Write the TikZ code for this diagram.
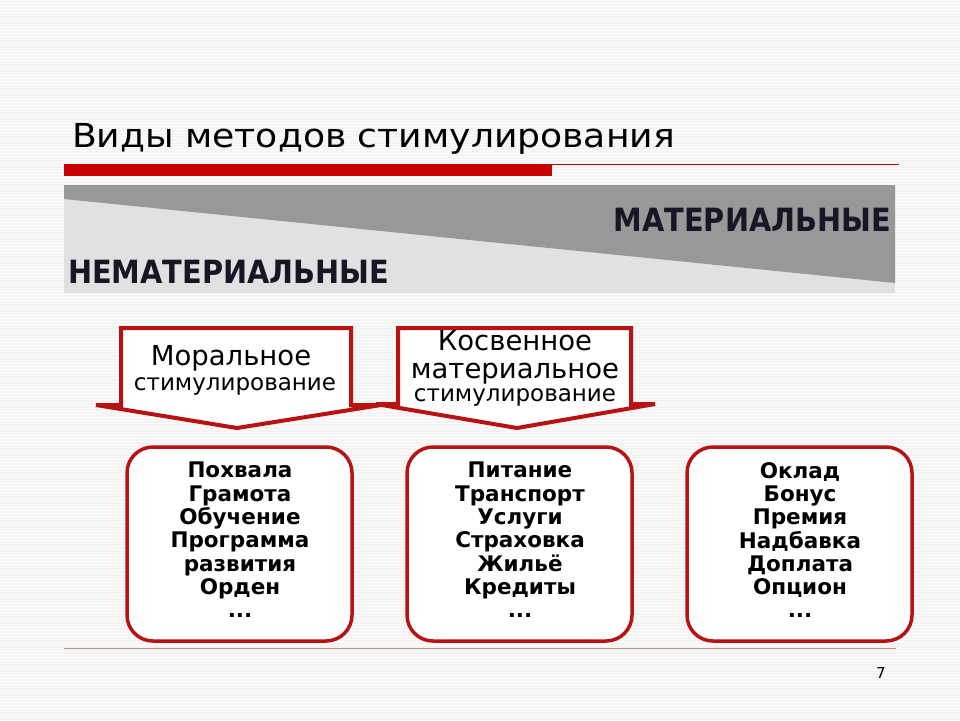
\documentclass[tikz,border=0pt]{standalone}
\usepackage{fontspec}
\setmainfont{DejaVu Sans}
\newfontfamily\cond{DejaVu Sans Condensed}
\definecolor{bgc}{RGB}{243,243,243}
\definecolor{redbar}{RGB}{200,0,0}
\definecolor{boxred}{RGB}{185,18,18}
\definecolor{darkg}{RGB}{152,152,152}
\definecolor{lightg}{RGB}{225,225,225}
\definecolor{rule}{RGB}{185,145,135}
\definecolor{ink}{RGB}{22,22,36}
\tikzset{
  callout/.style={draw=boxred, fill=white, line width=4pt, line join=miter},
  listbox/.style={draw=boxred, fill=white, line width=3.5pt, rounded corners=26pt},
  listtext/.style={align=center, inner sep=0pt, anchor=north, font=\fontsize{21.5}{23.3}\selectfont\bfseries},
  bigc/.style={inner sep=0pt, anchor=base, font=\fontsize{27.5}{30}\selectfont},
  smallc/.style={inner sep=0pt, anchor=base, font=\fontsize{23}{25}\selectfont},
  bandtext/.style={inner sep=0pt, font=\cond\fontsize{32}{36}\selectfont\bfseries, text=ink}
}
\begin{document}
\begin{tikzpicture}[x=1pt,y=-1pt]
\useasboundingbox (0,0) rectangle (960,720);
\fill[bgc] (0,0) rectangle (960,720);
\foreach \yy in {0,3,...,720} \draw[white, line width=0.8pt, opacity=0.7] (0,\yy) -- (960,\yy);
% title
\node[inner sep=0pt, anchor=base west, font=\fontsize{33}{36}\selectfont] (title) at (72,147) {\scalebox{1.095}[1]{Виды методов стимулирования}};
% red bars
\fill[redbar] (64,164) rectangle (552,176);
\draw[redbar, line width=1.2pt] (552,164.6) -- (899,164.6);
% band
\fill[lightg] (64,185) rectangle (895,293);
\fill[darkg] (64,185) -- (895,185) -- (895,283) -- (64,199) -- cycle;
\node[bandtext, anchor=base east] (mat) at (891,231) {МАТЕРИАЛЬНЫЕ};
\node[bandtext, anchor=base west] (nemat) at (68,283) {НЕМАТЕРИАЛЬНЫЕ};
% callouts
\draw[callout] (121,328) -- (351,328) -- (351,405) -- (381,405) -- (237,428) -- (96,405) -- (121,405) -- cycle;
\draw[callout] (398,328) -- (631,328) -- (631,404) -- (655,404) -- (517,428) -- (376,404) -- (398,404) -- cycle;
\node[bigc] (c1a) at (231,365) {Моральное};
\node[smallc] (c1b) at (235,390) {стимулирование};
\node[bigc] (c2a) at (515,350) {Косвенное};
\node[bigc] (c2b) at (515,378) {материальное};
\node[smallc] (c2c) at (515,401) {стимулирование};
% list boxes
\draw[listbox] (127,447) rectangle (352,641);
\draw[listbox] (407,447) rectangle (632,641);
\draw[listbox] (687,447) rectangle (912,641);
\node[listtext] (l1) at (240,462) {Похвала\\Грамота\\Обучение\\Программа\\развития\\Орден\\...};
\node[listtext] (l2) at (520,462) {Питание\\Транспорт\\Услуги\\Страховка\\Жильё\\Кредиты\\...};
\node[listtext] (l3) at (800,462) {Оклад\\Бонус\\Премия\\Надбавка\\Доплата\\Опцион\\...};
% bottom rule and page number
\draw[rule, line width=1pt] (64,648) -- (896,648);
\node[inner sep=0pt, anchor=base, font=\fontsize{15}{16}\selectfont] (pg) at (881,678) {7};
\end{tikzpicture}
\end{document}
